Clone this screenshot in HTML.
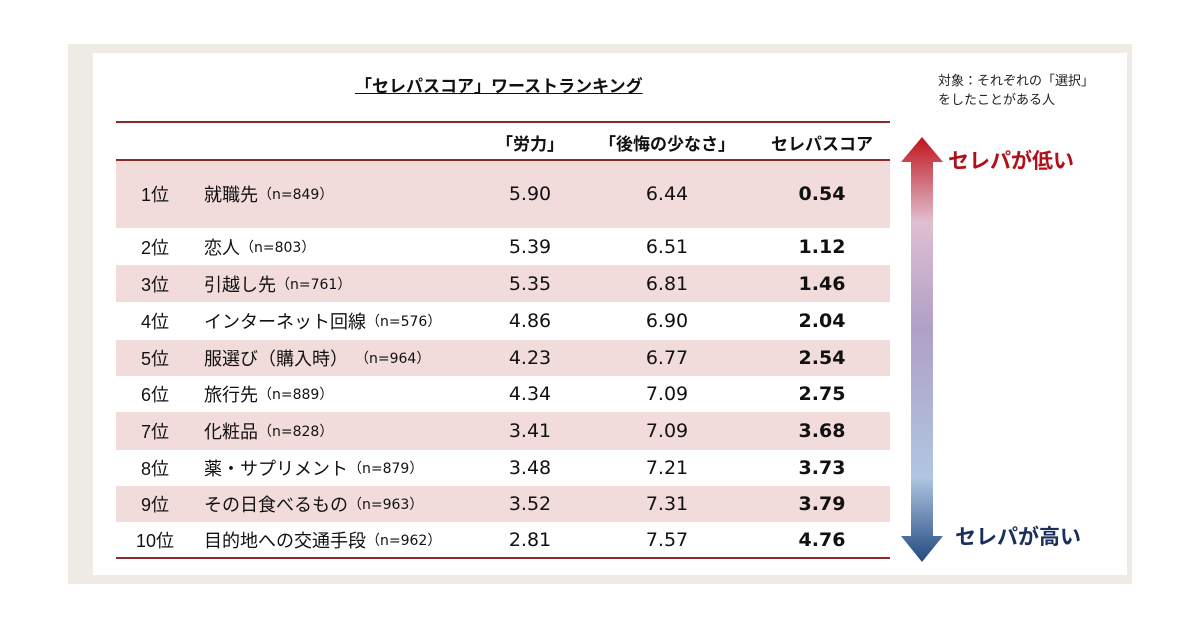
<!DOCTYPE html>
<html><head><meta charset="utf-8">
<style>
body{margin:0;width:1200px;height:630px;background:#fff;position:relative;overflow:hidden;font-family:"Liberation Sans","Noto Sans CJK JP",sans-serif;color:#111}
.abs{position:absolute}
#frame{left:68px;top:44px;width:1064px;height:540px;background:#edebe3}
#inner{left:93px;top:53px;width:1034px;height:522px;background:#fff}
#title{left:355px;top:72px;font-size:17px;font-weight:bold;text-decoration:underline}
#note{left:938px;top:71px;font-size:13px;line-height:19px;color:#222}
.hl{left:116px;width:774px;height:2px;background:#8c2a2a}
.hd{top:130px;font-size:17px;font-weight:bold;text-align:center}
.row{left:116px;width:774px}
.cell{position:absolute;top:0;height:100%;display:flex;align-items:center;font-size:18px}
.c{justify-content:center}
.num{font-family:"DejaVu Sans","Noto Sans CJK JP",sans-serif;font-size:19px}
.n{font-family:"DejaVu Sans","Noto Sans CJK JP",sans-serif;font-size:14px}
</style></head><body>
<div id="frame" class="abs"></div>
<div id="inner" class="abs"></div>
<div id="title" class="abs">「セレパスコア」ワーストランキング</div>
<div id="note" class="abs">対象：それぞれの「選択」<br>をしたことがある人</div>
<div id="rows"></div>
<div class="abs hl" style="top:121px"></div>
<div class="abs hl" style="top:159px"></div>
<div class="abs hl" style="top:557px"></div>
<div class="abs hd" style="left:480px;width:100px">「労力」</div>
<div class="abs hd" style="left:587px;width:160px">「後悔の少なさ」</div>
<div class="abs hd" style="left:762px;width:120px">セレパスコア</div>
<svg class="abs" style="left:890px;top:130px" width="70" height="440">
<defs><linearGradient id="g" x1="0" y1="0" x2="0" y2="1">
<stop offset="0" stop-color="#c0141c"/><stop offset="0.2" stop-color="#e0bfd2"/><stop offset="0.45" stop-color="#b0a0c6"/><stop offset="0.8" stop-color="#b0c6e2"/><stop offset="1" stop-color="#234a80"/></linearGradient></defs>
<polygon points="32,7 53,32 43,32 43,406 53,406 32,432 11,406 21,406 21,32 11,32" fill="url(#g)"/>
</svg>
<div class="abs" style="left:948px;top:145px;font-size:21px;font-weight:bold;color:#b0101a">セレパが低い</div>
<div class="abs" style="left:955px;top:521px;font-size:21px;font-weight:bold;color:#1a2e5e">セレパが高い</div>
<script>
const ranks=["1位","2位","3位","4位","5位","6位","7位","8位","9位","10位"];
const items=["就職先","恋人","引越し先","インターネット回線","服選び（購入時）","旅行先","化粧品","薬・サプリメント","その日食べるもの","目的地への交通手段"];
const ns=["849","803","761","576","964","889","828","879","963","962"];
const effort=[5.90,5.39,5.35,4.86,4.23,4.34,3.41,3.48,3.52,2.81];
const regret=[6.44,6.51,6.81,6.90,6.77,7.09,7.09,7.21,7.31,7.57];
const score=[0.54,1.12,1.46,2.04,2.54,2.75,3.68,3.73,3.79,4.76];
const rowTops=[160,228,265,302,340,376,412,450,486,522,558];
const host=document.getElementById('rows');
ranks.forEach((r,i)=>{
  const row=document.createElement('div');
  
  
  row.className='abs row';
  row.style.top=rowTops[i]+'px';row.style.height=(rowTops[i+1]-rowTops[i])+'px';
  row.style.background=i%2===0?'#f2dcdb':'#fff';
  const gap=i===4?'　':'';
  row.innerHTML=
   `<div class="cell c" style="left:0;width:78px">${r}</div>`+
   `<div class="cell" style="left:88px;width:320px">${items[i]}<span class="n">${gap}（n=${ns[i]}）</span></div>`+
   `<div class="cell c num" style="left:364px;width:100px">${effort[i].toFixed(2)}</div>`+
   `<div class="cell c num" style="left:501px;width:100px">${regret[i].toFixed(2)}</div>`+
   `<div class="cell c num" style="left:656px;width:100px;font-weight:bold">${score[i].toFixed(2)}</div>`;
  host.appendChild(row);
});
</script>
</body></html>
